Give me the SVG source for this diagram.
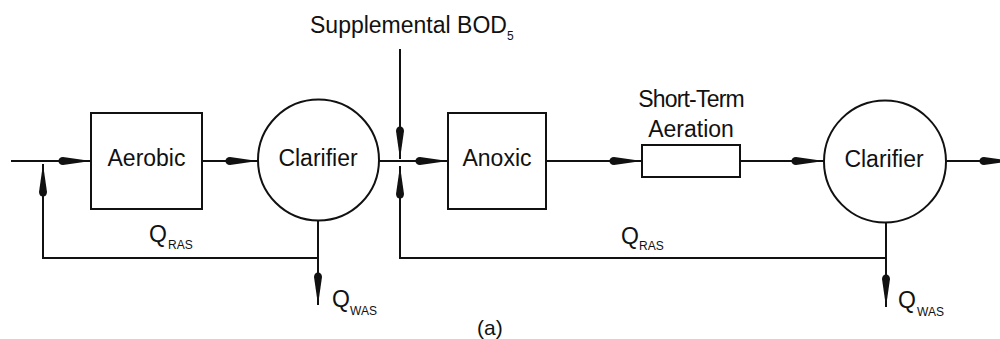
<svg xmlns="http://www.w3.org/2000/svg" width="1000" height="339" viewBox="0 0 1000 339">
  <style>
    .shape { fill: none; stroke: #111; stroke-width: 2; }
    .line { fill: none; stroke: #111; stroke-width: 2; }
    .lbl { font-family: "Liberation Sans", Arial, Helvetica, sans-serif; font-size: 23px; fill: #111; }
    .mid { text-anchor: middle; }
    .sub { font-size: 12px; }
  </style>
  <defs>
    <marker id="arr" markerUnits="userSpaceOnUse" markerWidth="34" markerHeight="10" viewBox="0 0 34 10" refX="33" refY="5" orient="auto" overflow="visible">
      <path d="M33,5 L5,1 Q0.5,1.3 0.5,5 Q0.5,8.7 5,9 Z" fill="#111"/>
    </marker>
  </defs>
  <rect width="1000" height="339" fill="#fff"/>

  <g id="connectors">
    <line class="line" x1="11" y1="161" x2="91" y2="161" marker-end="url(#arr)"/>
    <line class="line" x1="202" y1="161" x2="258" y2="161" marker-end="url(#arr)"/>
    <line class="line" x1="379" y1="161" x2="448" y2="161" marker-end="url(#arr)"/>
    <line class="line" x1="546" y1="161" x2="642" y2="161" marker-end="url(#arr)"/>
    <line class="line" x1="740" y1="161" x2="824" y2="161" marker-end="url(#arr)"/>
    <line class="line" x1="947" y1="161" x2="1012" y2="161" marker-end="url(#arr)"/>
    <line class="line" x1="400" y1="49" x2="400" y2="159" marker-end="url(#arr)"/>
    <path class="line" d="M318,258 L43,258 L43,164" marker-end="url(#arr)"/>
    <line class="line" x1="318" y1="221" x2="318" y2="305" marker-end="url(#arr)"/>
    <path class="line" d="M886,258 L400,258 L400,166" marker-end="url(#arr)"/>
    <line class="line" x1="886" y1="222" x2="886" y2="307" marker-end="url(#arr)"/>
  </g>

  <g id="aerobic">
    <rect class="shape" x="91" y="113" width="111" height="96"/>
    <text class="lbl mid" x="146.5" y="166">Aerobic</text>
  </g>
  <g id="clarifier1">
    <circle class="shape" cx="318.5" cy="160" r="60.5"/>
    <text class="lbl mid" x="318" y="166">Clarifier</text>
  </g>
  <g id="anoxic">
    <rect class="shape" x="448" y="113" width="98" height="96"/>
    <text class="lbl mid" x="497" y="166">Anoxic</text>
  </g>
  <g id="short-term-aeration">
    <rect class="shape" x="642" y="145" width="98" height="32"/>
    <text class="lbl mid" x="691" y="107" letter-spacing="-0.8">Short-Term</text>
    <text class="lbl mid" x="691" y="137">Aeration</text>
  </g>
  <g id="clarifier2">
    <circle class="shape" cx="885" cy="161.5" r="61"/>
    <text class="lbl mid" x="884" y="167">Clarifier</text>
  </g>

  <g id="labels">
    <text class="lbl" x="310" y="33">Supplemental BOD<tspan class="sub" dy="7">5</tspan></text>
    <text class="lbl" x="149" y="242">Q<tspan class="sub" x="168" y="249">RAS</tspan></text>
    <text class="lbl" x="621" y="244">Q<tspan class="sub" x="639" y="250">RAS</tspan></text>
    <text class="lbl" x="332" y="307">Q<tspan class="sub" x="350" y="315">WAS</tspan></text>
    <text class="lbl" x="898" y="308">Q<tspan class="sub" x="917" y="316">WAS</tspan></text>
    <text class="lbl" x="477" y="335" style="font-size:21px">(a)</text>
  </g>
</svg>
